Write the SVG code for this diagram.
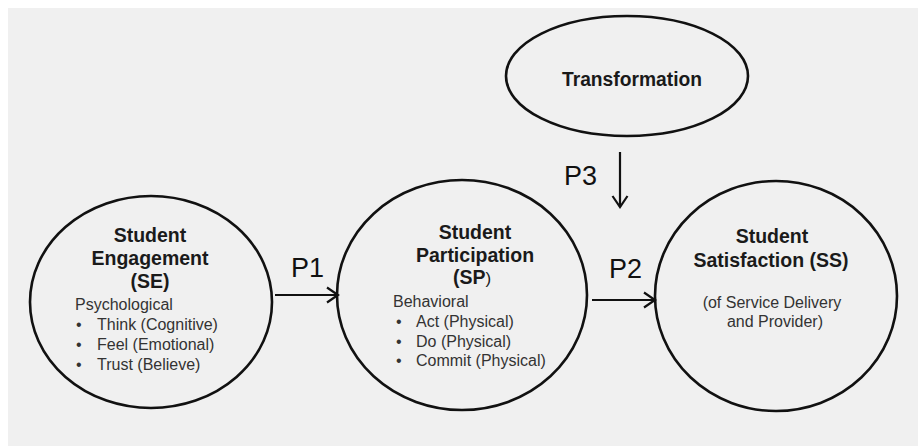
<svg xmlns="http://www.w3.org/2000/svg" width="918" height="446" viewBox="0 0 918 446">
<defs>
<marker id="arr" markerUnits="userSpaceOnUse" markerWidth="14" markerHeight="18" viewBox="0 0 14 18" refX="12" refY="9" orient="auto">
<path d="M1,1.5 L12,9 L1,16.5" fill="none" stroke="#111" stroke-width="2.2" stroke-linejoin="miter"/>
</marker>
</defs>
<style>
.node{fill:none;stroke:#111;stroke-width:2.6}
.b{font-family:"Liberation Sans",Arial,sans-serif;font-weight:bold;font-size:19.5px;fill:#1a1a1a;text-anchor:middle}
.r{font-family:"Liberation Sans",Arial,sans-serif;font-size:16px;fill:#333}
.p{font-family:"Liberation Sans",Arial,sans-serif;font-size:27px;fill:#111}
.edge{stroke:#111;stroke-width:2.2;fill:none}
</style>
<rect x="0" y="0" width="918" height="446" fill="#ffffff"/>
<rect x="8" y="8" width="910" height="438" fill="#f0f0f0"/>
<g id="transformation">
<ellipse class="node" cx="627" cy="76" rx="121" ry="60"/>
<text class="b" x="632" y="86" font-size="21px" textLength="140" lengthAdjust="spacingAndGlyphs">Transformation</text>
</g>
<g id="se">
<ellipse class="node" cx="151" cy="302" rx="121" ry="106"/>
<text class="b" x="150" y="242">Student</text>
<text class="b" x="150" y="265">Engagement</text>
<text class="b" x="150" y="288">(SE)</text>
<text class="r" x="75" y="310">Psychological</text>
<text class="r" x="76" y="330">•</text><text class="r" x="97" y="330">Think (Cognitive)</text>
<text class="r" x="76" y="350">•</text><text class="r" x="97" y="350">Feel (Emotional)</text>
<text class="r" x="76" y="370">•</text><text class="r" x="97" y="370">Trust (Believe)</text>
</g>
<g id="sp">
<ellipse class="node" cx="462" cy="295" rx="125" ry="115"/>
<text class="b" x="475" y="239">Student</text>
<text class="b" x="475" y="262">Participation</text>
<text class="b" x="472" y="284">(SP<tspan font-weight="normal" font-size="17px">)</tspan></text>
<text class="r" x="393" y="307">Behavioral</text>
<text class="r" x="396" y="327">•</text><text class="r" x="416" y="327">Act (Physical)</text>
<text class="r" x="396" y="347">•</text><text class="r" x="416" y="347">Do (Physical)</text>
<text class="r" x="396" y="366">•</text><text class="r" x="416" y="366">Commit (Physical)</text>
</g>
<g id="ss">
<ellipse class="node" cx="776" cy="296" rx="121" ry="115"/>
<text class="b" x="772" y="243">Student</text>
<text class="b" x="771" y="267">Satisfaction (SS)</text>
<text class="r" x="772" y="308" text-anchor="middle">(of Service Delivery</text>
<text class="r" x="775" y="327" text-anchor="middle">and Provider)</text>
</g>
<g id="connectors">
<line class="edge" x1="275" y1="295" x2="338" y2="295" marker-end="url(#arr)"/>
<line class="edge" x1="592" y1="300" x2="655" y2="300" marker-end="url(#arr)"/>
<line class="edge" x1="620" y1="152" x2="620" y2="207" marker-end="url(#arr)"/>
<text class="p" x="291" y="277">P1</text>
<text class="p" x="609" y="278">P2</text>
<text class="p" x="564" y="185">P3</text>
</g>
</svg>
